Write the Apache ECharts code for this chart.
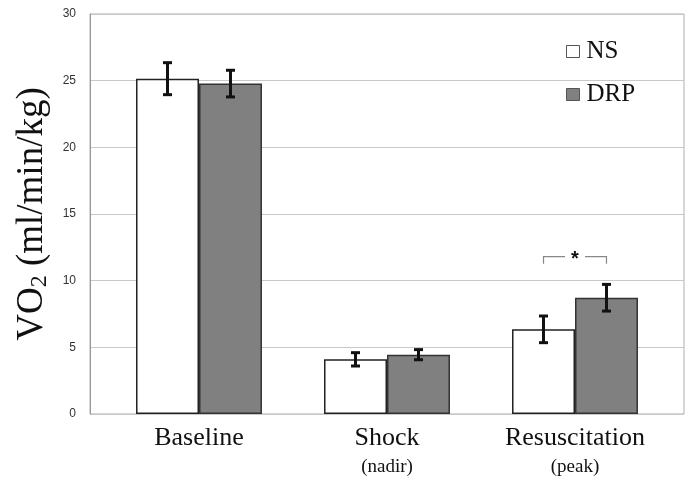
<!DOCTYPE html>
<html>
<head>
<meta charset="utf-8">
<script src="https://cdn.jsdelivr.net/npm/echarts@6/dist/echarts.min.js"></script>
<style>html,body{margin:0;padding:0;background:#fff}#c{width:690px;height:480px}</style>
</head>
<body>
<div id="c"></div>
<script>
const categories = ['Baseline', 'Shock', 'Resuscitation'];
const subLabels = ['', '(nadir)', '(peak)'];
const seriesNames = ['NS', 'DRP'];
const nsValues = [25.15, 4.1, 6.35];
const nsErrors = [1.2, 0.5, 1.0];
const drpValues = [24.78, 4.45, 8.72];
const drpErrors = [1.0, 0.38, 1.0];
const yTicks = [0, 5, 10, 15, 20, 25, 30];
const sigCategory = 2;
const sigLevel = 11.8;
const sigText = '*';

const chart = echarts.init(document.getElementById('c'), null, {renderer: 'canvas'});
const SERIF = '"Liberation Serif", "DejaVu Serif", serif';
const SANS = 'Arial, "Liberation Sans", sans-serif';
const BAND_FILL = 0.67;

function errorSeries(values, errors, side) {
  return {
    type: 'custom',
    xAxisIndex: 1, yAxisIndex: 1,
    silent: true, z: 5,
    data: values.map((v, i) => [i, v - errors[i], v + errors[i]]),
    renderItem: function (params, api) {
      const band = api.size([1, 0])[0];
      const off = side * band * BAND_FILL / 4;
      const lo = api.coord([api.value(0), api.value(1)]);
      const hi = api.coord([api.value(0), api.value(2)]);
      const x = lo[0] + off;
      const cap = 4.5;
      const st = {stroke: '#111', lineWidth: 3};
      return {type: 'group', children: [
        {type: 'line', shape: {x1: x, y1: lo[1], x2: x, y2: hi[1]}, style: st},
        {type: 'line', shape: {x1: x - cap, y1: lo[1], x2: x + cap, y2: lo[1]}, style: st},
        {type: 'line', shape: {x1: x - cap, y1: hi[1], x2: x + cap, y2: hi[1]}, style: st}
      ]};
    }
  };
}

const option = {
  backgroundColor: '#fff',
  animation: false,
  grid: [
    {left: 90, right: 6, top: 14, bottom: 66, show: true, borderColor: '#b0b0b0', borderWidth: 1},
    {left: 105, width: 564, top: 14, bottom: 66}
  ],
  legend: {
    orient: 'vertical', left: 561, top: 34, itemGap: 18,
    itemWidth: 13, itemHeight: 12, icon: 'rect',
    textStyle: {fontFamily: SERIF, fontSize: 25, color: '#111', padding: [0, 0, 0, 2]},
    data: seriesNames.map(n => ({name: n, itemStyle: {borderWidth: 1, borderColor: '#555'}}))
  },
  xAxis: [
    {gridIndex: 0, type: 'category', data: categories, show: false},
    {gridIndex: 1, type: 'category', data: categories,
     axisLine: {show: false}, axisTick: {show: false},
     axisLabel: {margin: 8, interval: 0,
       formatter: function (v, i) {
         return subLabels[i] ? '{b|' + v + '}\n{s|' + subLabels[i] + '}' : '{b|' + v + '}';
       },
       rich: {
         b: {fontFamily: SERIF, fontSize: 26, color: '#111', lineHeight: 32},
         s: {fontFamily: SERIF, fontSize: 19, color: '#111', lineHeight: 26}
       }}}
  ],
  yAxis: [
    {gridIndex: 0, type: 'value', min: 0, max: 30, interval: 5,
     axisLine: {show: true, lineStyle: {color: '#999'}},
     axisTick: {show: false},
     axisLabel: {fontFamily: SANS, fontSize: 12, color: '#333', margin: 14},
     splitLine: {show: true, lineStyle: {color: '#c8c8c8'}},
     name: '{a|VO}{b|2}{a| (ml/min/kg)}',
     nameLocation: 'middle', nameGap: 36, nameRotate: 90,
     nameTextStyle: {rich: {
       a: {fontFamily: SERIF, fontSize: 37, color: '#111'},
       b: {fontFamily: SERIF, fontSize: 24, color: '#111', padding: [14, 0, 0, 0]}
     }}},
    {gridIndex: 1, type: 'value', min: 0, max: 30, interval: 5, show: false, splitLine: {show: false}}
  ],
  series: [
    {name: 'NS', type: 'bar', xAxisIndex: 1, yAxisIndex: 1, data: nsValues,
     barGap: 0, barCategoryGap: '33%',
     itemStyle: {color: '#ffffff', borderColor: '#222', borderWidth: 1.5}},
    {name: 'DRP', type: 'bar', xAxisIndex: 1, yAxisIndex: 1, data: drpValues,
     barGap: 0, barCategoryGap: '33%',
     itemStyle: {color: '#808080', borderColor: '#333', borderWidth: 1.5}},
    errorSeries(nsValues, nsErrors, -1),
    errorSeries(drpValues, drpErrors, 1),
    {type: 'custom', xAxisIndex: 1, yAxisIndex: 1, silent: true, z: 6,
     data: [[sigCategory, sigLevel]],
     renderItem: function (params, api) {
       const band = api.size([1, 0])[0];
       const off = band * BAND_FILL / 4;
       const p = api.coord([api.value(0), api.value(1)]);
       const x1 = p[0] - off, x2 = p[0] + off, y = p[1];
       const gap = 10, drop = 7;
       const st = {stroke: '#888', lineWidth: 1.2, fill: null};
       return {type: 'group', children: [
         {type: 'polyline', shape: {points: [[x1, y + drop], [x1, y], [p[0] - gap, y]]}, style: st},
         {type: 'polyline', shape: {points: [[p[0] + gap, y], [x2, y], [x2, y + drop]]}, style: st},
         {type: 'text', x: p[0], y: y + 3, style: {text: sigText, fontFamily: SANS, fontSize: 20, fontWeight: 'bold', fill: '#111', align: 'center', verticalAlign: 'middle'}}
       ]};
     }}
  ]
};
chart.setOption(option);
</script>
</body>
</html>
